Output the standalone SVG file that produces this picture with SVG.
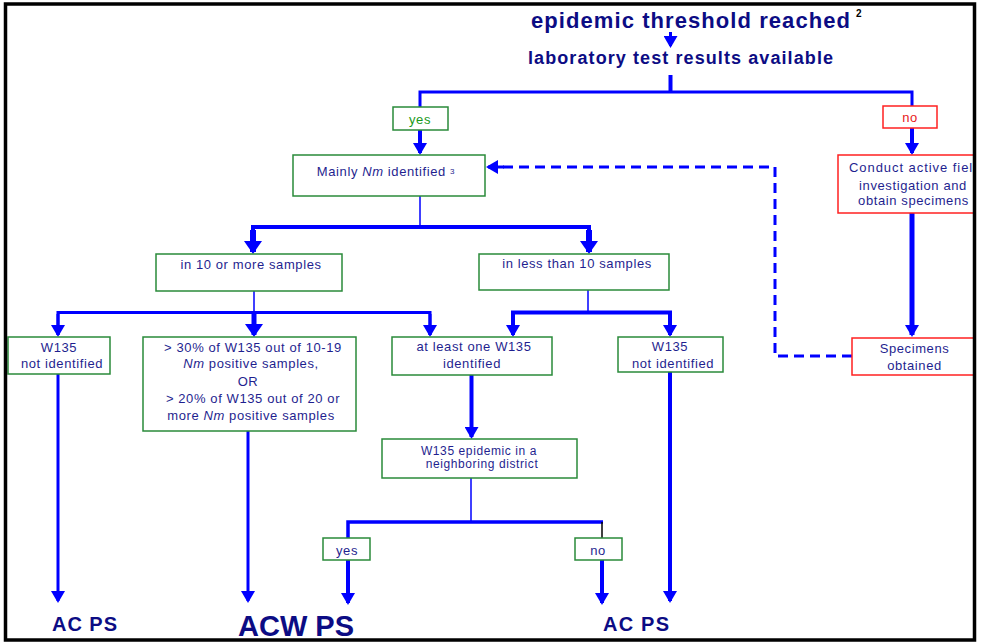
<svg xmlns="http://www.w3.org/2000/svg" width="981" height="643" viewBox="0 0 981 643">
<style>
.t{font-family:"Liberation Sans",Arial,sans-serif;font-size:13px;fill:#1f1f8f;letter-spacing:.6px;text-anchor:middle}
.s{font-size:12px}
.h{font-family:"Liberation Sans",Arial,sans-serif;font-weight:bold;fill:#0c0c84;text-anchor:middle}
.g{fill:#fff;stroke:#2a8a3a;stroke-width:1.5}
.r{fill:#fff;stroke:#ff2020;stroke-width:1.5}
.ln{fill:none;stroke:#0000ff;stroke-linejoin:miter}
.yes{fill:#1a9a1a}
.no{fill:#e82020}
</style>
<defs>
<marker id="a" viewBox="0 0 12 14" refX="10" refY="7" markerWidth="12" markerHeight="14" markerUnits="userSpaceOnUse" orient="auto"><path d="M0,0 L12,7 L0,14 z" fill="#0000ff"/></marker>
<marker id="A" viewBox="0 0 13 18" refX="11" refY="9" markerWidth="13" markerHeight="18" markerUnits="userSpaceOnUse" orient="auto"><path d="M0,0 L13,9 L0,18 z" fill="#0000ff"/></marker>
<clipPath id="c"><rect x="0" y="0" width="974" height="643"/></clipPath>
</defs>
<rect x="0" y="0" width="981" height="643" fill="#fff"/>
<g clip-path="url(#c)">
<g id="connectors">
<path class="ln" stroke-width="3" d="M670.5,32 V46" marker-end="url(#a)"/>
<path class="ln" stroke-width="4" d="M670.5,75 V92"/>
<path class="ln" stroke-width="3" d="M420,107 V92 H912 V106"/>
<path class="ln" stroke-width="4" d="M420,130 V153" marker-end="url(#a)"/>
<path class="ln" stroke-width="4" d="M912,128 V153" marker-end="url(#a)"/>
<path class="ln" stroke-width="5" d="M912,213 V335" marker-end="url(#a)"/>
<path class="ln" stroke-width="3" stroke-dasharray="10,6" d="M852,356 H775 V167 H500"/>
<path class="ln" stroke-width="3" d="M504,167 H488" marker-end="url(#a)"/>
<path class="ln" stroke-width="1.5" d="M420,196 V227"/>
<path class="ln" stroke-width="4" d="M253,252 V227 H589 V252"/>
<path class="ln" stroke-width="6" d="M253,230 V252" marker-end="url(#A)"/>
<path class="ln" stroke-width="6" d="M589,230 V252" marker-end="url(#A)"/>
<path class="ln" stroke-width="1.5" d="M254,291 V312"/>
<path class="ln" stroke-width="3" d="M58,335 V312.5 H430 V335"/>
<path class="ln" stroke-width="3" d="M58,314 V335" marker-end="url(#a)"/>
<path class="ln" stroke-width="5" d="M254,314 V335" marker-end="url(#A)"/>
<path class="ln" stroke-width="3" d="M430,314 V335" marker-end="url(#a)"/>
<path class="ln" stroke-width="1.5" d="M588,290 V312"/>
<path class="ln" stroke-width="4" d="M513,335 V312.5 H670 V335"/>
<path class="ln" stroke-width="4" d="M513,314 V335" marker-end="url(#a)"/>
<path class="ln" stroke-width="4" d="M670,314 V335" marker-end="url(#a)"/>
<path class="ln" stroke-width="4" d="M471.5,375 V437" marker-end="url(#a)"/>
<path class="ln" stroke-width="3" d="M58,374 V601" marker-end="url(#a)"/>
<path class="ln" stroke-width="3" d="M248,431 V601" marker-end="url(#a)"/>
<path class="ln" stroke-width="4" d="M670,372 V601" marker-end="url(#a)"/>
<path class="ln" stroke-width="1.5" d="M471,478 V522"/>
<path class="ln" stroke-width="3.5" d="M348,538 V522 H603"/>
<path fill="none" stroke="#000" stroke-width="1.5" d="M602,522 V538"/>
<path class="ln" stroke-width="4" d="M348,560 V603" marker-end="url(#a)"/>
<path class="ln" stroke-width="4" d="M602,560 V603" marker-end="url(#a)"/>
</g>
<g id="title">
<text class="h" x="690.5" y="28" font-size="22" textLength="319" lengthAdjust="spacing">epidemic threshold reached</text>
<text x="856" y="17" font-family="Liberation Sans,Arial,sans-serif" font-weight="bold" font-size="10" fill="#000">2</text>
</g>
<g id="lab"><text class="h" x="680.5" y="64" font-size="18" textLength="305" lengthAdjust="spacing">laboratory test results available</text></g>
<g id="yes1"><rect class="g" x="393" y="107" width="55" height="23"/><text class="t yes" x="420" y="124">yes</text></g>
<g id="no1"><rect class="r" x="883" y="106" width="54" height="22"/><text class="t no" x="910" y="122">no</text></g>
<g id="mainly"><rect class="g" x="293" y="155" width="192" height="41"/><text class="t" x="386" y="176">Mainly <tspan font-style="italic">Nm</tspan> identified <tspan font-size="8" dy="-2">3</tspan></text></g>
<g id="conduct"><rect class="r" x="838" y="155" width="150" height="58"/>
<text class="t" x="849" y="172" style="text-anchor:start" textLength="132" lengthAdjust="spacing">Conduct active field</text>
<text class="t" x="913" y="190">investigation and</text>
<text class="t" x="913.5" y="205">obtain specimens</text></g>
<g id="specimens"><rect class="r" x="852" y="338" width="136" height="37"/>
<text class="t" x="914.5" y="353">Specimens</text><text class="t" x="914.5" y="370">obtained</text></g>
<g id="ten"><rect class="g" x="156" y="254" width="186" height="37"/><text class="t" x="251" y="269">in 10 or more samples</text></g>
<g id="less"><rect class="g" x="479" y="254" width="190" height="36"/><text class="t" x="577" y="268">in less than 10 samples</text></g>
<g id="w135l"><rect class="g" x="8" y="337" width="102" height="37"/>
<text class="t" x="59" y="352">W135</text><text class="t" x="62" y="368">not identified</text></g>
<g id="pct"><rect class="g" x="143" y="337" width="213" height="94"/>
<text class="t" x="253" y="352">&gt; 30% of  W135 out of 10-19</text>
<text class="t" x="251" y="368"><tspan font-style="italic">Nm</tspan> positive samples,</text>
<text class="t" x="248" y="386">OR</text>
<text class="t" x="253" y="403">&gt; 20% of W135 out  of 20 or</text>
<text class="t" x="251" y="420">more <tspan font-style="italic">Nm</tspan> positive samples</text></g>
<g id="atleast"><rect class="g" x="392" y="337" width="160" height="38"/>
<text class="t" x="474" y="351">at least one W135</text><text class="t" x="472" y="368">identified</text></g>
<g id="w135r"><rect class="g" x="618" y="337" width="105" height="35"/>
<text class="t" x="670" y="351">W135</text><text class="t" x="673" y="368">not identified</text></g>
<g id="epi"><rect class="g" x="382" y="439" width="195" height="39"/>
<text class="t s" x="479" y="455">W135 epidemic in a</text><text class="t s" x="482" y="468">neighboring district</text></g>
<g id="yes2"><rect class="g" x="323" y="538" width="47" height="22"/><text class="t" x="347" y="555">yes</text></g>
<g id="no2"><rect class="g" x="575" y="538" width="47" height="22"/><text class="t" x="598" y="555">no</text></g>
<g id="acps1"><text class="h" x="84.5" y="631" font-size="20" textLength="65" lengthAdjust="spacing">AC PS</text></g>
<g id="acwps"><text class="h" x="296" y="636" font-size="29" textLength="116" lengthAdjust="spacing">ACW PS</text></g>
<g id="acps2"><text class="h" x="636" y="631" font-size="20" textLength="66" lengthAdjust="spacing">AC PS</text></g>
</g>
<rect x="5.5" y="4" width="969" height="636" fill="none" stroke="#000" stroke-width="3.5"/>
</svg>
